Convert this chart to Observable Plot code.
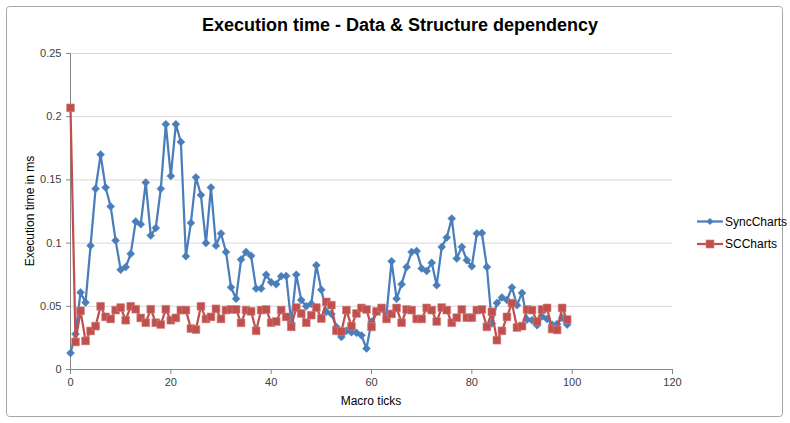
<!DOCTYPE html>
<html>
<head>
<meta charset="utf-8">
<script src="https://cdn.jsdelivr.net/npm/d3@7"></script>
<script src="https://cdn.jsdelivr.net/npm/@observablehq/plot@0.6"></script>
<style>
  html, body { margin: 0; padding: 0; background: #fff; }
  #chart { width: 790px; height: 423px; }
</style>
</head>
<body>
<div id="chart"></div>
<script>
const title = "Execution time - Data & Structure dependency";
const xLabel = "Macro ticks";
const yLabel = "Execution time in ms";
const seriesNames = ["SyncCharts", "SCCharts"];
const seriesColors = ["#4a7ebb", "#c0504d"];

const xTicks = [0, 20, 40, 60, 80, 100, 120];
const yTicks = [0, 0.05, 0.1, 0.15, 0.2, 0.25];
const yTickLabels = ["0", "0.05", "0.1", "0.15", "0.2", "0.25"];

// Macro tick index 0..99
const macroTicks = d3.range(100);

const syncCharts = [
  0.013, 0.028, 0.061, 0.053, 0.098, 0.143, 0.170, 0.144, 0.129, 0.102,
  0.079, 0.081, 0.0915, 0.117, 0.115, 0.148, 0.106, 0.112, 0.143, 0.194,
  0.153, 0.194, 0.180, 0.0896, 0.116, 0.152, 0.138, 0.100, 0.144, 0.098,
  0.1076, 0.093, 0.065, 0.056, 0.087, 0.093, 0.090, 0.064, 0.064, 0.075,
  0.069, 0.0675, 0.0738, 0.074, 0.037, 0.075, 0.055, 0.050, 0.052, 0.0825,
  0.063, 0.0456, 0.044, 0.0337, 0.0258, 0.0306, 0.0295, 0.029, 0.027, 0.0166,
  0.0377, 0.0456, 0.048, 0.044, 0.0857, 0.056, 0.0675, 0.081, 0.093, 0.0938,
  0.080, 0.078, 0.0844, 0.0667, 0.097, 0.1044, 0.1194, 0.0878, 0.097, 0.0865,
  0.0817, 0.1076, 0.108, 0.081, 0.0364, 0.0527, 0.057, 0.055, 0.0649, 0.0509,
  0.0606, 0.0395, 0.039, 0.035, 0.042, 0.040, 0.0355, 0.036, 0.041, 0.0355
];

const scCharts = [
  0.207, 0.0218, 0.0464, 0.0226, 0.0305, 0.0343, 0.050, 0.0416, 0.040, 0.047,
  0.049, 0.039, 0.050, 0.0477, 0.0408, 0.037, 0.0477, 0.037, 0.0356, 0.0477,
  0.039, 0.0408, 0.047, 0.047, 0.0324, 0.0316, 0.050, 0.040, 0.0416, 0.048,
  0.040, 0.047, 0.0475, 0.0475, 0.0369, 0.047, 0.046, 0.0306, 0.047, 0.0475,
  0.037, 0.038, 0.047, 0.0416, 0.0337, 0.049, 0.0443, 0.037, 0.043, 0.049,
  0.0403, 0.0535, 0.0509, 0.0306, 0.030, 0.047, 0.0343, 0.0443, 0.0487, 0.0475,
  0.0337, 0.046, 0.0487, 0.040, 0.044, 0.0487, 0.037, 0.0475, 0.047, 0.040,
  0.040, 0.0487, 0.047, 0.038, 0.049, 0.047, 0.037, 0.041, 0.0475, 0.041,
  0.041, 0.047, 0.0475, 0.0337, 0.0456, 0.0232, 0.0306, 0.0416, 0.0525, 0.0332,
  0.0343, 0.0475, 0.047, 0.038, 0.0475, 0.0487, 0.032, 0.0313, 0.0487, 0.0395
];

const syncData = macroTicks.map((t, i) => ({tick: t, value: syncCharts[i]}));
const scData = macroTicks.map((t, i) => ({tick: t, value: scCharts[i]}));

const FONT = "'Liberation Sans', Arial, sans-serif";

const chart = Plot.plot({
  width: 790,
  height: 423,
  marginLeft: 70,
  marginRight: 118,
  marginTop: 53,
  marginBottom: 54,
  style: {fontFamily: FONT, fontSize: "11px", color: "#404040", background: "#fff"},
  x: {domain: [0, 120], label: null},
  y: {domain: [0, 0.25], label: null},
  marks: [
    Plot.gridY(yTicks.filter(d => d > 0), {stroke: "#d9d9d9", strokeOpacity: 1, strokeWidth: 1}),
    Plot.axisX(xTicks, {tickSize: 5, tickPadding: 4, stroke: "#868686", fill: "#404040", fontSize: 11, tickFormat: d => String(d)}),
    Plot.axisY(yTicks, {tickSize: 4, tickPadding: 5, stroke: "#868686", fill: "#404040", fontSize: 11,
      tickFormat: d => yTickLabels[yTicks.indexOf(d)]}),
    Plot.ruleY([0], {stroke: "#868686"}),
    Plot.ruleX([0], {stroke: "#868686"}),
    Plot.line(syncData, {x: "tick", y: "value", stroke: seriesColors[0], strokeWidth: 2.25}),
    Plot.dot(syncData, {x: "tick", y: "value", symbol: "diamond2", r: 3.6, fill: seriesColors[0], stroke: seriesColors[0], strokeWidth: 0.5}),
    Plot.line(scData, {x: "tick", y: "value", stroke: seriesColors[1], strokeWidth: 2.25}),
    Plot.dot(scData, {x: "tick", y: "value", symbol: "square", r: 4.4, fill: seriesColors[1], stroke: "#d27f7d", strokeWidth: 0.6})
  ]
});

document.getElementById("chart").appendChild(chart);

// Chart decorations: border, title, axis titles, legend
const svg = d3.select(chart);
svg.insert("rect", ":first-child")
  .attr("x", 6.5).attr("y", 6.5).attr("width", 776).attr("height", 410)
  .attr("rx", 3).attr("fill", "#fff").attr("stroke", "#a6a6a6").attr("stroke-width", 1);

svg.append("text")
  .attr("x", 400).attr("y", 31)
  .attr("text-anchor", "middle")
  .attr("font-family", FONT).attr("font-weight", "bold").attr("font-size", 18)
  .attr("fill", "#000")
  .text(title);

svg.append("text")
  .attr("x", 371).attr("y", 405)
  .attr("text-anchor", "middle")
  .attr("font-family", FONT).attr("font-size", 12)
  .attr("fill", "#000")
  .text(xLabel);

svg.append("text")
  .attr("transform", "translate(34,211) rotate(-90)")
  .attr("text-anchor", "middle")
  .attr("font-family", FONT).attr("font-size", 12)
  .attr("fill", "#000")
  .text(yLabel);

const legend = svg.append("g").attr("font-family", FONT).attr("font-size", 12).attr("text-anchor", "start");
const legendRows = [221.5, 244];
seriesNames.forEach((name, i) => {
  const g = legend.append("g").attr("transform", `translate(697,${legendRows[i]})`);
  g.append("line").attr("x1", 0).attr("x2", 26).attr("y1", 0).attr("y2", 0)
    .attr("stroke", seriesColors[i]).attr("stroke-width", 2.25);
  if (i === 0) {
    g.append("path").attr("d", "M13,-3.6L16.6,0L13,3.6L9.4,0Z").attr("fill", seriesColors[i]);
  } else {
    g.append("rect").attr("x", 9).attr("y", -4).attr("width", 8).attr("height", 8)
      .attr("fill", seriesColors[i]).attr("stroke", "#d27f7d").attr("stroke-width", 0.6);
  }
  g.append("text").attr("x", 28).attr("y", 0).attr("dy", "0.35em")
    .attr("text-anchor", "start").attr("fill", "#000").text(name);
});
</script>
</body>
</html>
